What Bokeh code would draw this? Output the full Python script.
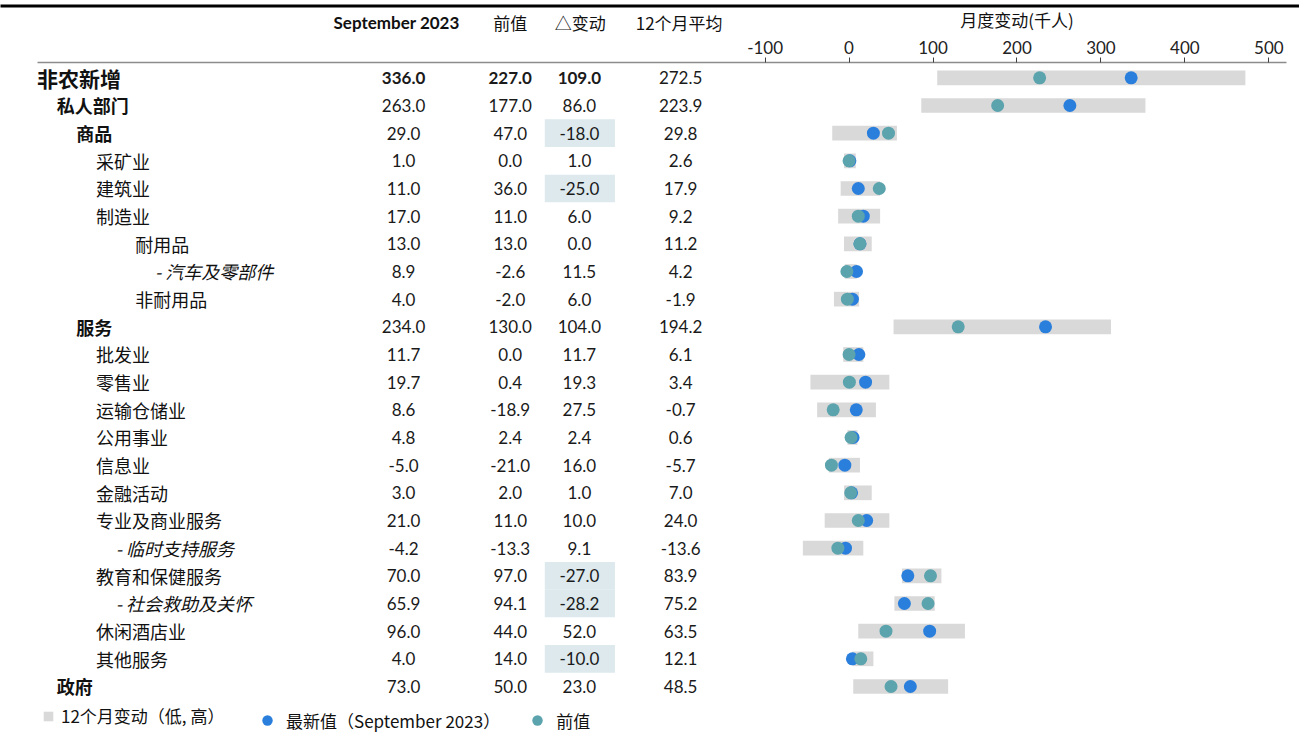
from bokeh.plotting import figure
from bokeh.models import ColumnDataSource, Range1d, FixedTicker, Legend, LegendItem
from bokeh.core.properties import value
from bokeh.embed import file_html
from bokeh.resources import INLINE

# ---------------- data ----------------
categories = ["非农新增", "私人部门", "商品", "采矿业", "建筑业", "制造业", "耐用品",
              "- 汽车及零部件", "非耐用品", "服务", "批发业", "零售业", "运输仓储业",
              "公用事业", "信息业", "金融活动", "专业及商业服务", "- 临时支持服务",
              "教育和保健服务", "- 社会救助及关怀", "休闲酒店业", "其他服务", "政府"]
levels = [0, 1, 2, 3, 3, 3, 5, 6, 5, 2, 3, 3, 3, 3, 3, 3, 3, 4, 3, 4, 3, 3, 1]
latest = [336.0, 263.0, 29.0, 1.0, 11.0, 17.0, 13.0, 8.9, 4.0, 234.0, 11.7, 19.7, 8.6,
          4.8, -5.0, 3.0, 21.0, -4.2, 70.0, 65.9, 96.0, 4.0, 73.0]
previous = [227.0, 177.0, 47.0, 0.0, 36.0, 11.0, 13.0, -2.6, -2.0, 130.0, 0.0, 0.4, -18.9,
            2.4, -21.0, 2.0, 11.0, -13.3, 97.0, 94.1, 44.0, 14.0, 50.0]
change = [109.0, 86.0, -18.0, 1.0, -25.0, 6.0, 0.0, 11.5, 6.0, 104.0, 11.7, 19.3, 27.5,
          2.4, 16.0, 1.0, 10.0, 9.1, -27.0, -28.2, 52.0, -10.0, 23.0]
avg_12m = [272.5, 223.9, 29.8, 2.6, 17.9, 9.2, 11.2, 4.2, -1.9, 194.2, 6.1, 3.4, -0.7,
           0.6, -5.7, 7.0, 24.0, -13.6, 83.9, 75.2, 63.5, 12.1, 48.5]
low_12m = [105, 86, -20, -6, -10, -13, -6, -5, -18, 53, -7, -46, -38, -2, -24, -6, -29,
           -55, 63, 54, 11, 4, 5]
high_12m = [472, 353, 57, 8, 37, 37, 27, 9, 12, 312, 17, 48, 32, 10, 13, 27, 48, 17,
            110, 102, 138, 29, 118]
ticks = [-100, 0, 100, 200, 300, 400, 500]
tick_labels = ["-100", "0", "100", "200", "300", "400", "500"]
col_headers = ["September 2023", "前值", "△变动", "12个月平均"]
axis_title = "月度变动(千人)"
legend_labels = ["12个月变动（低, 高）", "最新值（September 2023）", "前值"]

# ---------------- layout (design grid 1315 x 750, drawn on a 1299 x 734 canvas) ----------------
W, H = 1299, 734
GW, GH = 1315.0, 750.0
SX, SY = W / GW, H / GH
ZERO = 859.0          # design x of value 0
PPU = 0.85            # design px per unit
ROW0 = 79.0           # design y of first row
STEP = 28.27          # design px per row
TOP_BORDER = 62       # canvas px above the frame (axis area)


def ry(gy):
    return (gy - ROW0) / STEP


def vx(gx):
    return (gx - ZERO) / PPU


n = len(categories)
rows = list(range(n))

LABEL_FONT = value("Noto Sans CJK SC")
NUM_FONT = value("Lato")

p = figure(width=W, height=H,
           x_range=Range1d(vx(0), vx(GW)),
           y_range=Range1d(ry(GH), ry(TOP_BORDER / SY)),
           x_axis_location="above", y_axis_location=None,
           output_backend="svg", toolbar_location=None,
           min_border_top=TOP_BORDER, min_border_bottom=0,
           min_border_left=0, min_border_right=0,
           outline_line_color=None, background_fill_color="white",
           border_fill_color="white")
p.extra_x_ranges = {"table": Range1d(0, GW)}
p.xgrid.visible = False
p.ygrid.visible = False

ax = p.xaxis[0]
ax.ticker = FixedTicker(ticks=ticks)
ax.major_label_overrides = {t: s for t, s in zip(ticks, tick_labels)}
ax.bounds = (vx(37), vx(1302))
ax.axis_line_color = "#8c8c8c"
ax.axis_line_width = 1.3
ax.major_tick_line_color = "#404040"
ax.major_tick_out = 5
ax.major_tick_in = 0
ax.minor_tick_line_color = None
ax.major_label_standoff = 4
ax.major_label_text_font = "Lato"
ax.major_label_text_font_size = "17px"
ax.major_label_text_color = "#222222"

# ---------- highlight cells for strong negative change ----------
hl_rows = [r for r in rows if change[r] <= -10]
p.rect(x=[586.5] * len(hl_rows), y=hl_rows, width=71, height=1.0,
       fill_color="#dde9ed", line_color=None, x_range_name="table")

# ---------- range bars and dots ----------
bar_src = ColumnDataSource(dict(y=rows, left=low_12m, right=high_12m))
bars = p.hbar(y="y", left="left", right="right", height=15 / STEP, source=bar_src,
              fill_color="#d9d9d9", line_color=None)
dot_latest = p.scatter(x=latest, y=rows, size=13, fill_color="#2b7fdc", line_color=None)
dot_prev = p.scatter(x=previous, y=rows, size=13, fill_color="#5ba3ad", line_color=None)

# ---------- row labels ----------
lab_style = []
lab_size = []
for c, l in zip(categories, levels):
    if l <= 2:
        lab_style.append("bold")
    elif c.startswith("-"):
        lab_style.append("italic")
    else:
        lab_style.append("normal")
    lab_size.append("21px" if l == 0 else "18px")
lab_src = ColumnDataSource(dict(x=[37 + 19.9 * l for l in levels], y=rows, text=categories,
                                style=lab_style, size=lab_size))
p.text(x="x", y="y", text="text", source=lab_src, x_range_name="table",
       text_font=LABEL_FONT, text_font_style="style", text_font_size="size",
       text_align="left", text_baseline="middle", text_color="#111111")

# ---------- numeric columns ----------
col_x = [408, 516, 586, 688.5]
for ci, (vals, cx) in enumerate(zip([latest, previous, change, avg_12m], col_x)):
    styles = ["bold" if (r == 0 and ci < 3) else "normal" for r in rows]
    src = ColumnDataSource(dict(x=[cx] * n, y=rows, text=[f"{v:.1f}" for v in vals],
                                style=styles))
    p.text(x="x", y="y", text="text", source=src, x_range_name="table",
           text_font=NUM_FONT, text_font_style="style", text_font_size="17px",
           text_align="center", text_baseline="middle", text_color="#1a1a1a")

# ---------- headers ----------
hdr_x = [401, 516, 587, 687]
hdr_y = ry(22)
p.text(x=[hdr_x[0]], y=[hdr_y], text=[col_headers[0]], x_range_name="table",
       text_font=NUM_FONT, text_font_style="bold", text_font_size="17px",
       text_align="center", text_baseline="middle", text_color="#111111", level="overlay")
p.text(x=hdr_x[1:], y=[hdr_y] * 3, text=col_headers[1:], x_range_name="table",
       text_font=LABEL_FONT, text_font_size="17px",
       text_align="center", text_baseline="middle", text_color="#111111", level="overlay")
p.text(x=[vx(1029)], y=[ry(19)], text=[axis_title],
       text_font=LABEL_FONT, text_font_size="17px",
       text_align="center", text_baseline="middle", text_color="#111111", level="overlay")

# ---------- top rule ----------
p.segment(x0=[0], x1=[GW], y0=[ry(5.5)], y1=[ry(5.5)], x_range_name="table",
          line_color="#000000", line_width=3, level="overlay")

# ---------- legends (screen offsets from the frame's bottom-left) ----------
leg_center = 736 * SY
leg1 = Legend(items=[LegendItem(label=legend_labels[0], renderers=[bars])],
              location=(int(round(43 * SX)), int(round(H - (leg_center + 8)))),
              orientation="horizontal",
              glyph_width=12, glyph_height=12, label_height=16, label_standoff=7,
              padding=0, margin=0, border_line_color=None, background_fill_alpha=0,
              label_text_font="Noto Sans CJK SC", label_text_font_size="17px",
              label_text_color="#111111")
leg2 = Legend(items=[LegendItem(label=legend_labels[1], renderers=[dot_latest]),
                     LegendItem(label=legend_labels[2], renderers=[dot_prev])],
              location=(int(round(270 * SX - 13)), int(round(H - (leg_center + 13)))),
              orientation="horizontal",
              glyph_width=26, glyph_height=26, label_height=16, label_standoff=6,
              spacing=24, padding=0, margin=0, border_line_color=None,
              background_fill_alpha=0,
              label_text_font="Noto Sans CJK SC", label_text_font_size="17px",
              label_text_color="#111111")
p.add_layout(leg1, "center")
p.add_layout(leg2, "center")

open("out.html", "w").write(file_html(p, INLINE))
